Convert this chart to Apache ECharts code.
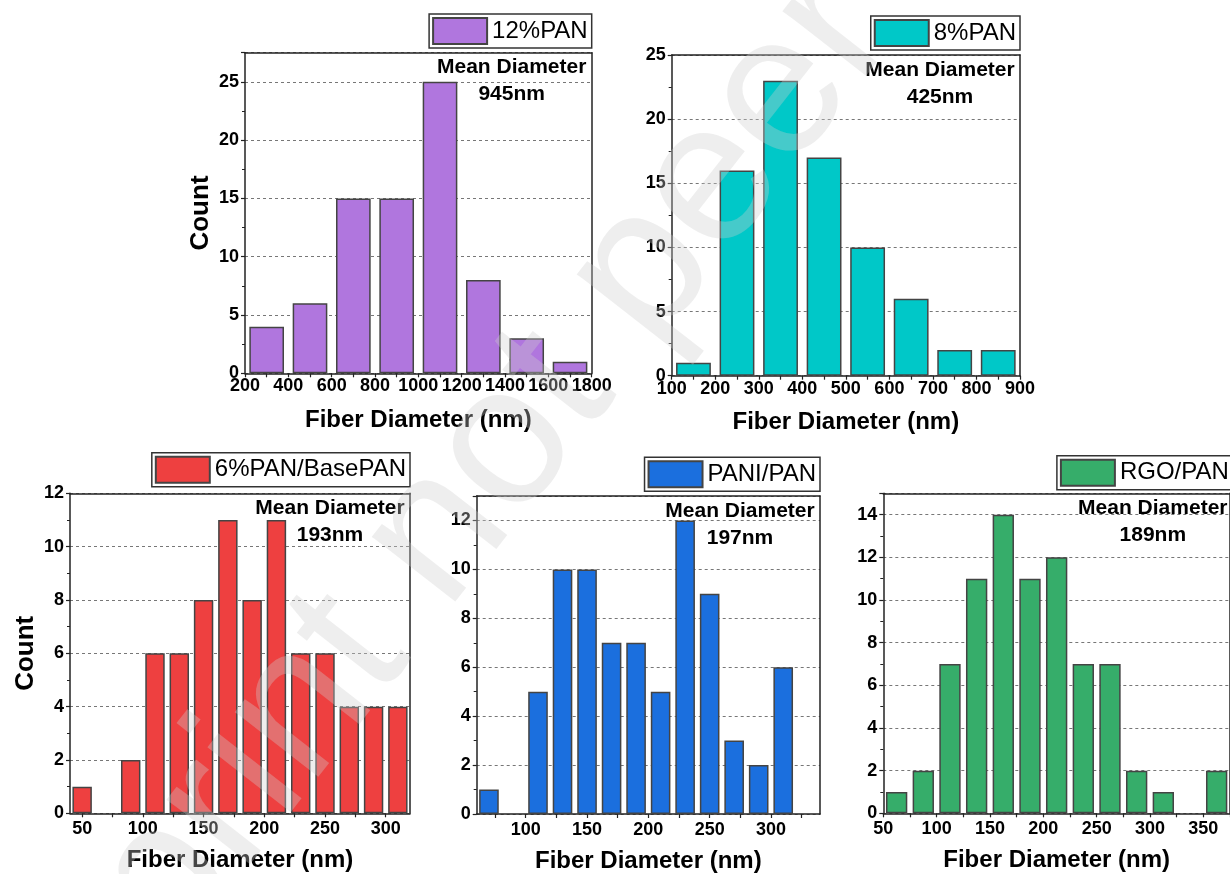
<!DOCTYPE html>
<html>
<head>
<meta charset="utf-8">
<script src="https://cdn.jsdelivr.net/npm/echarts@6/dist/echarts.min.js"></script>
<style>
  html, body { margin: 0; padding: 0; background: #fff; }
  #chart { width: 1230px; height: 874px; }
</style>
</head>
<body>
<div id="chart"></div>
<script>
// ---- Histogram data: bin centres (nm) and counts ----
const pan12Centers = [300, 500, 700, 900, 1100, 1300, 1500, 1700];
const pan12Counts  = [4, 6, 15, 15, 25, 8, 3, 1];

const pan8Centers = [150, 250, 350, 450, 550, 650, 750, 850];
const pan8Counts  = [1, 16, 23, 17, 10, 6, 2, 2];

const pan6Centers = [50, 70, 90, 110, 130, 150, 170, 190, 210, 230, 250, 270, 290, 310];
const pan6Counts  = [1, 0, 2, 6, 6, 8, 11, 8, 11, 6, 6, 4, 4, 4];

const paniCenters = [70, 90, 110, 130, 150, 170, 190, 210, 230, 250, 270, 290, 310, 330];
const paniCounts  = [1, 0, 5, 10, 10, 7, 7, 5, 12, 9, 3, 2, 6, 0];

const rgoCenters = [62.5, 87.5, 112.5, 137.5, 162.5, 187.5, 212.5, 237.5, 262.5, 287.5, 312.5, 337.5, 362.5];
const rgoCounts  = [1, 2, 7, 11, 14, 11, 12, 7, 7, 2, 1, 0, 2];

// ---- Axis tick labels ----
const pan12XLabels = [200, 400, 600, 800, 1000, 1200, 1400, 1600, 1800];
const pan8XLabels  = [100, 200, 300, 400, 500, 600, 700, 800, 900];
const pan6XLabels  = [50, 100, 150, 200, 250, 300];
const paniXLabels  = [100, 150, 200, 250, 300];
const rgoXLabels   = [50, 100, 150, 200, 250, 300, 350];

const seriesNames = ['12%PAN', '8%PAN', '6%PAN/BasePAN', 'PANI/PAN', 'RGO/PAN'];
const meanDiameters = ['945nm', '425nm', '193nm', '197nm', '189nm'];

// ---- Panel layout and styling ----
const FONT = '"Liberation Sans", Arial, Helvetica, sans-serif';
const panels = [
  { name: seriesNames[0], mean: meanDiameters[0], centers: pan12Centers, counts: pan12Counts, labels: pan12XLabels,
    color: '#B076DE', box: [245, 52.7, 346.7, 320.6], xMin: 200, xMax: 1800, tickStep: 100,
    yMax: 27.5, yStep: 5, countTitle: true, labelMargin: 4, legendTop: 14 },
  { name: seriesNames[1], mean: meanDiameters[1], centers: pan8Centers, counts: pan8Counts, labels: pan8XLabels,
    color: '#00C8C8', box: [671.7, 55, 348.3, 320.7], xMin: 100, xMax: 900, tickStep: 50,
    yMax: 25, yStep: 5, countTitle: false, labelMargin: 4, legendTop: 16 },
  { name: seriesNames[2], mean: meanDiameters[2], centers: pan6Centers, counts: pan6Counts, labels: pan6XLabels,
    color: '#EE4040', box: [70, 493.3, 340, 320], xMin: 40, xMax: 320, tickStep: 25,
    yMax: 12, yStep: 2, countTitle: true, labelMargin: 7, legendTop: 452.7 },
  { name: seriesNames[3], mean: meanDiameters[3], centers: paniCenters, counts: paniCounts, labels: paniXLabels,
    color: '#1B6FDE', box: [476.7, 496, 343.3, 318], xMin: 60, xMax: 340, tickStep: 25,
    yMax: 13, yStep: 2, countTitle: false, labelMargin: 7, legendTop: 457.3 },
  { name: seriesNames[4], mean: meanDiameters[4], centers: rgoCenters, counts: rgoCounts, labels: rgoXLabels,
    color: '#36AD6A', box: [883.3, 493.3, 349.5, 320], xMin: 50, xMax: 375, tickStep: 25,
    yMax: 15, yStep: 2, countTitle: false, labelMargin: 7, legendTop: 455.7 }
];

const W = 1230;
const grids = [], xAxes = [], yAxes = [], series = [], legends = [], graphics = [];

function stepValues(min, max, step) {
  const out = [];
  const start = Math.ceil(min / step) * step;
  for (let v = start; v <= max + 1e-9; v += step) out.push(v);
  return out;
}

panels.forEach((p, i) => {
  const [left, top, width, height] = p.box;
  const right = left + width;
  grids.push({ left: left, top: top, width: width, height: height, containLabel: false });

  // bottom value axis
  xAxes.push({
    gridIndex: i, type: 'value', position: 'bottom', min: p.xMin, max: p.xMax,
    axisLine: { show: true, onZero: false, lineStyle: { color: '#222', width: 1.5 } },
    axisTick: { show: true, length: 4, customValues: stepValues(p.xMin, p.xMax, p.tickStep),
                lineStyle: { color: '#222', width: 1.2 } },
    axisLabel: { customValues: p.labels, color: '#000', fontSize: 18, fontWeight: 'bold',
                 fontFamily: FONT, margin: p.labelMargin, formatter: v => String(v) },
    splitLine: { show: false },
    name: 'Fiber Diameter (nm)', nameLocation: 'middle', nameGap: 35,
    nameTextStyle: { color: '#000', fontSize: 24, fontWeight: 'bold', fontFamily: FONT }
  });
  // top frame line
  xAxes.push({
    gridIndex: i, type: 'value', position: 'top', min: p.xMin, max: p.xMax, z: 3,
    axisLine: { show: true, onZero: false, lineStyle: { color: '#222', width: 1.5 } },
    axisTick: { show: false }, axisLabel: { show: false }, splitLine: { show: false }
  });

  // left count axis
  yAxes.push({
    gridIndex: i, type: 'value', position: 'left', min: 0, max: p.yMax, interval: p.yStep,
    axisLine: { show: true, onZero: false, lineStyle: { color: '#222', width: 1.5 } },
    axisTick: { show: true, length: 4, lineStyle: { color: '#222', width: 1.2 } },
    minorTick: { show: true, splitNumber: 2, length: 3, lineStyle: { color: '#222', width: 1 } },
    axisLabel: { color: '#000', fontSize: 18, fontWeight: 'bold', fontFamily: FONT, margin: 6,
                 formatter: v => (Math.abs(v / p.yStep - Math.round(v / p.yStep)) < 1e-9 ? String(v) : '') },
    splitLine: { show: true, lineStyle: { color: '#777', width: 1, type: [3, 3] } },
    name: p.countTitle ? 'Count' : '', nameLocation: 'middle', nameGap: 31,
    nameTextStyle: { color: '#000', fontSize: 26, fontWeight: 'bold', fontFamily: FONT }
  });
  // right frame line
  yAxes.push({
    gridIndex: i, type: 'value', position: 'right', min: 0, max: p.yMax, z: 3,
    axisLine: { show: true, onZero: false, lineStyle: { color: '#222', width: 1.5 } },
    axisTick: { show: false }, axisLabel: { show: false }, splitLine: { show: false }
  });

  series.push({
    name: p.name, type: 'bar', xAxisIndex: 2 * i, yAxisIndex: 2 * i,
    // empty bins get no bar outline
    data: p.centers.map((c, k) => [c, p.counts[k] === 0 ? null : p.counts[k]]),
    barWidth: '80%',
    itemStyle: { color: p.color, borderColor: '#444', borderWidth: 1.5 },
    emphasis: { disabled: true },
    animation: false
  });

  legends.push({
    data: [p.name], right: W - right, top: p.legendTop, orient: 'horizontal',
    icon: 'rect', itemWidth: 54, itemHeight: 26, itemGap: 0,
    padding: [3, 4, 3, 3], borderColor: '#333', borderWidth: 1.5,
    selectedMode: false,
    textStyle: { color: '#000', fontSize: 24, fontFamily: FONT, lineHeight: 26 }
  });

  // mean diameter annotation, anchored to the upper-right corner of the plot
  graphics.push({
    type: 'text', x: right - 4 - 76, y: top + 1.5, z: 10, silent: true,
    style: { text: 'Mean Diameter\n' + p.mean, fill: '#000', font: 'bold 21px ' + FONT,
             align: 'center', verticalAlign: 'top', textAlign: 'center', textVerticalAlign: 'top',
             lineHeight: 27 }
  });
});

// diagonal watermark across the page
graphics.push({
  type: 'text', x: 660, y: 250, rotation: 52 * Math.PI / 180, z: 100, silent: true,
  style: { text: 'Preprint not peer reviewed', font: '200px ' + FONT,
           fill: 'rgba(205,205,205,0.34)', align: 'center', verticalAlign: 'middle',
           textAlign: 'center', textVerticalAlign: 'middle' }
});

const chart = echarts.init(document.getElementById('chart'), null, { renderer: 'canvas' });
chart.setOption({
  backgroundColor: '#fff',
  animation: false,
  grid: grids, xAxis: xAxes, yAxis: yAxes, series: series, legend: legends,
  graphic: graphics
});
</script>
</body>
</html>
